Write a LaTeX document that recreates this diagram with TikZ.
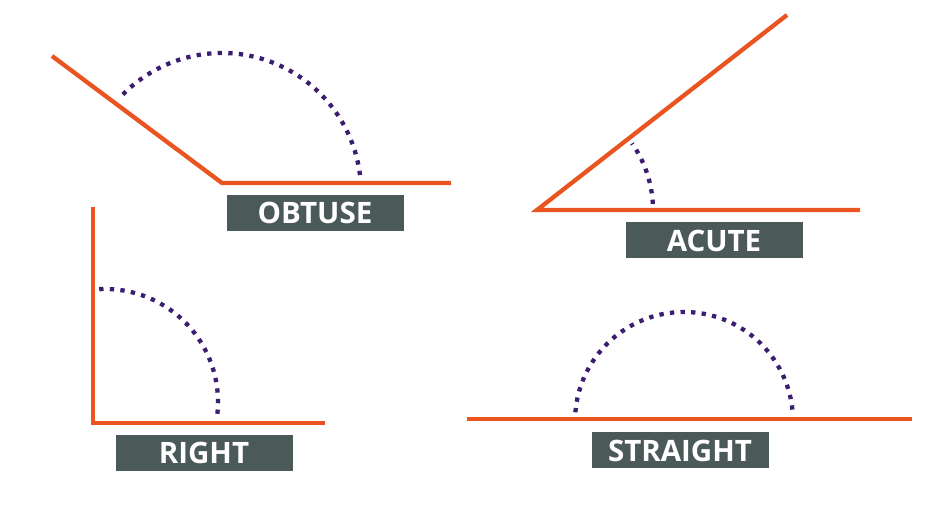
\documentclass[tikz,border=0pt]{standalone}
\usepackage{fontspec}
\setmainfont{Open Sans}
\usepackage{tikz}
\definecolor{rayorange}{RGB}{233,84,32}
\definecolor{arcpurple}{RGB}{60,30,112}
\definecolor{tagslate}{RGB}{75,89,89}

\begin{document}
\begin{tikzpicture}[x=1pt,y=1pt,
  ray/.style={draw=rayorange,line width=4.3pt},
  sweep/.style={draw=arcpurple,line width=4.3pt,dash pattern=on 4.3pt off 6.3pt},
  tag/.style={fill=tagslate,text=white,minimum width=177pt,minimum height=36pt,
    inner sep=0pt,font=\fontsize{29.5}{29.5}\selectfont\bfseries}]
  \useasboundingbox (0,0) rectangle (926,516);
  % obtuse angle
  \draw[ray] (52,460) -- (222,333) -- (451,333);
  \draw[sweep] (222,324) ++(7:139) arc[start angle=7,end angle=138,radius=139];
  \node[tag] (obtuse) at (315,303) {OBTUSE};
  % acute angle
  \draw[ray] (787,501) -- (537,306) -- (860,306);
  \draw[sweep] (537,306) ++(3:116) arc[start angle=3,end angle=35,radius=116];
  \node[tag] (acute) at (714,275.5) {ACUTE};
  % right angle
  \draw[ray] (92.7,309) -- (92.7,92.7) -- (325,92.7);
  \draw[sweep] (105,114) ++(-6:113) arc[start angle=-6,end angle=96,radius=113];
  \node[tag] (right) at (204,62.8) {RIGHT};
  % straight angle
  \draw[ray] (466.7,96.7) -- (911.7,96.7);
  \draw[sweep] (684,95) ++(6:109) arc[start angle=6,end angle=178,radius=109];
  \node[tag] (straight) at (680,65.5) {STRAIGHT};
\end{tikzpicture}
\end{document}
